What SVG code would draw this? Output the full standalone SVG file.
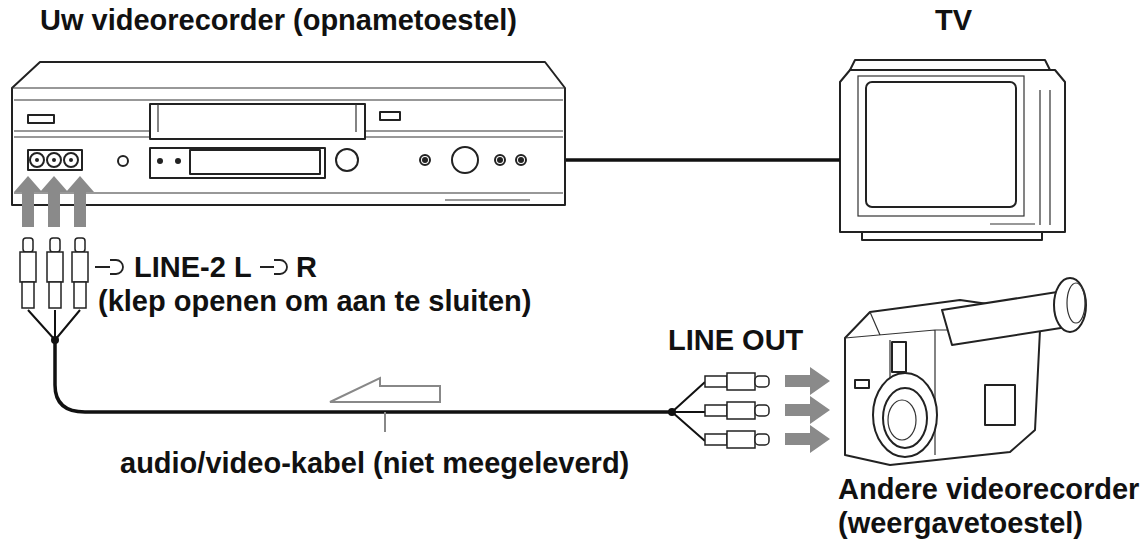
<svg xmlns="http://www.w3.org/2000/svg" width="1146" height="542" viewBox="0 0 1146 542">
<style>
.t{font-family:"Liberation Sans",Arial,sans-serif;font-weight:bold;font-size:29px;fill:#111}
.l{fill:#fff;stroke:#222;stroke-width:2;stroke-linejoin:round}
.th{fill:none;stroke:#333;stroke-width:1.2}
.ga{fill:#8a8a8a}
.cab{fill:none;stroke:#111;stroke-width:3.5}
</style>
<rect width="1146" height="542" fill="#fff"/>
<text class="t" x="40" y="30">Uw videorecorder (opnametoestel)</text>
<text class="t" x="935" y="30">TV</text>
<g id="vcr">
<path class="l" d="M12,88 L40,62 L545,62 L565,88 L565,205 L12,205 Z"/>
<path class="th" d="M12,88 H565 M14,100 H563 M14,131 H563 M14,137 H563 M14,193 H563 M445,200 H530"/>
<rect class="l" x="150" y="104" width="215" height="35" stroke-width="1.5"/>
<path class="th" d="M158,104 V132 M356,104 V132"/>
<rect class="l" x="150" y="148" width="175" height="30" stroke-width="1.5"/>
<rect class="l" x="190" y="150" width="130" height="24" stroke-width="1.5"/>
<rect class="l" x="28" y="115" width="26" height="8" stroke-width="1.5"/>
<rect class="l" x="380" y="112" width="20" height="8" stroke-width="1.5"/>
<rect class="l" x="28" y="150" width="54" height="20" stroke-width="1.5"/>
<g fill="#fff" stroke="#222" stroke-width="2"><circle cx="37" cy="160" r="7"/><circle cx="54" cy="160" r="7"/><circle cx="71" cy="160" r="7"/><circle cx="123" cy="161" r="5"/><circle cx="347" cy="160" r="11"/><circle cx="425" cy="160" r="5"/><circle cx="465" cy="160" r="13"/><circle cx="500" cy="160" r="5"/><circle cx="521" cy="160" r="5"/></g>
<g fill="#222"><circle cx="37" cy="160" r="2"/><circle cx="54" cy="160" r="2"/><circle cx="71" cy="160" r="2"/><circle cx="160" cy="161" r="3"/><circle cx="178" cy="161" r="3"/><circle cx="425" cy="160" r="3"/><circle cx="500" cy="160" r="3"/><circle cx="521" cy="160" r="3"/></g>
</g>
<g id="tv">
<path class="l" d="M840,82 L850,70 L1055,70 L1065,82 L1065,232 L840,232 Z"/>
<path class="l" d="M855,60 H1045 L1050,70 H850 Z"/>
<rect class="l" x="866" y="82" width="150" height="125" rx="6"/>
<rect class="th" x="858" y="76" width="166" height="140"/>
<path class="th" d="M1040,90 V225 M1050,90 V225 M990,224 H1035"/>
<rect class="l" x="862" y="232" width="180" height="8"/>
</g>
<g id="camcorder">
<path class="l" d="M845,338 L870,312 L960,300 L1030,310 L1040,330 L1035,430 L1010,452 L890,465 L845,455 Z"/>
<path class="th" d="M845,338 L935,330 L1040,330 M935,330 V455 M870,312 L880,335 M890,340 V380"/>
<rect class="l" x="892" y="342" width="14" height="30" stroke-width="1.5"/>
<ellipse class="l" cx="905" cy="415" rx="32" ry="42"/>
<ellipse class="l" cx="905" cy="418" rx="22" ry="30"/>
<ellipse class="th" cx="902" cy="420" rx="14" ry="20"/>
<path class="l" d="M942,310 L1070,290 L1080,325 L952,345 Z" />
<ellipse class="l" cx="1070" cy="305" rx="16" ry="27"/>
<ellipse class="th" cx="1076" cy="303" rx="9" ry="20"/>
<rect class="l" x="985" y="385" width="30" height="40" stroke-width="1.5"/>
<rect class="l" x="855" y="380" width="14" height="8" stroke-width="1.5"/>
</g>
<g id="connectors">
<path class="cab" d="M566,160 H840"/>
<path class="cab" d="M55,340 V385 Q55,412 85,412 H672"/>
<path fill="none" stroke="#111" stroke-width="2" d="M28,310 L55,340 M55,310 V340 M80,310 L55,340 M672,412 L705,382 M672,412 H705 M672,412 L705,441"/>
<circle cx="55" cy="340" r="4" fill="#111"/><circle cx="672" cy="412" r="4" fill="#111"/>
<g class="ga">
<path d="M22,227 V192 H14 L28,176 L42,192 H34 V227 Z"/>
<path d="M48,227 V192 H40 L54,176 L68,192 H60 V227 Z"/>
<path d="M74,227 V192 H66 L80,176 L94,192 H86 V227 Z"/>
<path d="M785,375 H810 V367 L830,381 L810,395 V387 H785 Z"/>
<path d="M785,404 H810 V396 L830,410 L810,424 V416 H785 Z"/>
<path d="M785,433 H810 V425 L830,439 L810,453 V445 H785 Z"/>
</g>
<g fill="#fff" stroke="#222" stroke-width="1.5">
<g id="pv1"><rect x="23" y="238" width="10" height="14" rx="3"/><rect x="20" y="252" width="16" height="30"/><rect x="22" y="282" width="12" height="26"/></g>
<use href="#pv1" x="27"/><use href="#pv1" x="52"/>
<g id="ph1"><rect x="705" y="376" width="22" height="11"/><rect x="727" y="373" width="28" height="17"/><rect x="755" y="376" width="14" height="11" rx="4"/></g>
<use href="#ph1" y="29"/><use href="#ph1" y="58"/>
</g>
<path fill="#fff" stroke="#888" stroke-width="2" d="M330,402 L380,378 V386 H440 V402 Z"/>
<path stroke="#888" stroke-width="2" d="M385,412 V432"/>
</g>
<g fill="none" stroke="#222" stroke-width="1.8">
<path d="M95,267 H110 M110,260 H116 A7,7 0 0 1 116,274 H110"/>
<path d="M260,267 H274 M274,260 H280 A7,7 0 0 1 280,274 H274"/>
</g>
<text class="t" x="134" y="277">LINE-2 L</text>
<text class="t" x="296" y="277">R</text>
<text class="t" x="98" y="311">(klep openen om aan te sluiten)</text>
<text class="t" x="668" y="350">LINE OUT</text>
<text class="t" x="120" y="473">audio/video-kabel (niet meegeleverd)</text>
<text class="t" x="838" y="499">Andere videorecorder</text>
<text class="t" x="838" y="533">(weergavetoestel)</text>
</svg>
